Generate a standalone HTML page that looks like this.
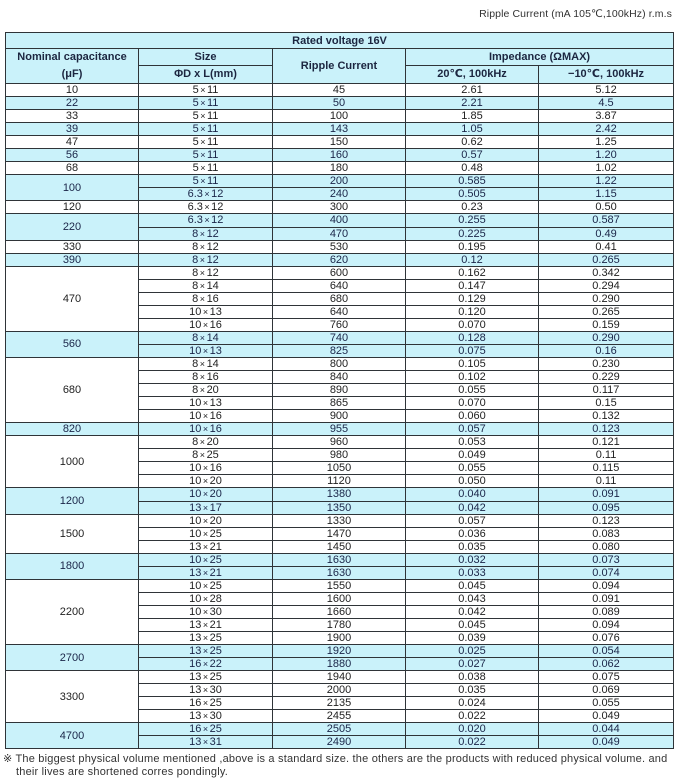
<!DOCTYPE html>
<html>
<head>
<meta charset="utf-8">
<style>
html,body{margin:0;padding:0;background:#fff;}
body{width:680px;height:782px;position:relative;overflow:hidden;font-family:"Liberation Sans","DejaVu Sans",sans-serif;}
.title{position:absolute;right:8px;top:8px;font-size:10.5px;color:#333;white-space:nowrap;letter-spacing:0.1px;}
table{position:absolute;left:5px;top:32px;border-collapse:collapse;table-layout:fixed;width:668px;}
td{border:1px solid #2f3438;padding:0;text-align:center;vertical-align:middle;font-size:11px;line-height:12px;color:#222;overflow:hidden;white-space:nowrap;}
tr{height:13.06px;}
.h td{font-weight:bold;color:#1c2640;background:#caf2fa;}
.b td{background:#caf2fa;color:#1a2548;}
i{font-style:normal;font-size:9px;margin:0 1.5px;}
.foot{position:absolute;left:3px;top:753px;font-size:11px;color:#333;line-height:13px;white-space:nowrap;letter-spacing:0.2px;}
.foot span{display:inline-block;width:13px;}
</style>
</head>
<body>
<div class="title">Ripple Current (mA 105℃,100kHz) r.m.s</div>
<table>
<colgroup><col style="width:133px"><col style="width:134px"><col style="width:133px"><col style="width:133px"><col style="width:135px"></colgroup>
<tr class="h" style="height:16px"><td colspan="5">Rated voltage 16V</td></tr>
<tr class="h" style="height:16px"><td rowspan="2" style="line-height:17px">Nominal capacitance<br>(μF)</td><td>Size</td><td rowspan="2">Ripple Current</td><td colspan="2">Impedance (ΩMAX)</td></tr>
<tr class="h" style="height:17px"><td>ΦD x L(mm)</td><td>20℃, 100kHz</td><td>−10℃, 100kHz</td></tr>

<tr><td>10</td><td>5<i>×</i>11</td><td>45</td><td>2.61</td><td>5.12</td></tr>
<tr class="b"><td>22</td><td>5<i>×</i>11</td><td>50</td><td>2.21</td><td>4.5</td></tr>
<tr><td>33</td><td>5<i>×</i>11</td><td>100</td><td>1.85</td><td>3.87</td></tr>
<tr class="b"><td>39</td><td>5<i>×</i>11</td><td>143</td><td>1.05</td><td>2.42</td></tr>
<tr><td>47</td><td>5<i>×</i>11</td><td>150</td><td>0.62</td><td>1.25</td></tr>
<tr class="b"><td>56</td><td>5<i>×</i>11</td><td>160</td><td>0.57</td><td>1.20</td></tr>
<tr><td>68</td><td>5<i>×</i>11</td><td>180</td><td>0.48</td><td>1.02</td></tr>
<tr class="b"><td rowspan="2">100</td><td>5<i>×</i>11</td><td>200</td><td>0.585</td><td>1.22</td></tr>
<tr class="b"><td>6.3<i>×</i>12</td><td>240</td><td>0.505</td><td>1.15</td></tr>
<tr><td>120</td><td>6.3<i>×</i>12</td><td>300</td><td>0.23</td><td>0.50</td></tr>
<tr class="b"><td rowspan="2">220</td><td>6.3<i>×</i>12</td><td>400</td><td>0.255</td><td>0.587</td></tr>
<tr class="b"><td>8<i>×</i>12</td><td>470</td><td>0.225</td><td>0.49</td></tr>
<tr><td>330</td><td>8<i>×</i>12</td><td>530</td><td>0.195</td><td>0.41</td></tr>
<tr class="b"><td>390</td><td>8<i>×</i>12</td><td>620</td><td>0.12</td><td>0.265</td></tr>
<tr><td rowspan="5">470</td><td>8<i>×</i>12</td><td>600</td><td>0.162</td><td>0.342</td></tr>
<tr><td>8<i>×</i>14</td><td>640</td><td>0.147</td><td>0.294</td></tr>
<tr><td>8<i>×</i>16</td><td>680</td><td>0.129</td><td>0.290</td></tr>
<tr><td>10<i>×</i>13</td><td>640</td><td>0.120</td><td>0.265</td></tr>
<tr><td>10<i>×</i>16</td><td>760</td><td>0.070</td><td>0.159</td></tr>
<tr class="b"><td rowspan="2">560</td><td>8<i>×</i>14</td><td>740</td><td>0.128</td><td>0.290</td></tr>
<tr class="b"><td>10<i>×</i>13</td><td>825</td><td>0.075</td><td>0.16</td></tr>
<tr><td rowspan="5">680</td><td>8<i>×</i>14</td><td>800</td><td>0.105</td><td>0.230</td></tr>
<tr><td>8<i>×</i>16</td><td>840</td><td>0.102</td><td>0.229</td></tr>
<tr><td>8<i>×</i>20</td><td>890</td><td>0.055</td><td>0.117</td></tr>
<tr><td>10<i>×</i>13</td><td>865</td><td>0.070</td><td>0.15</td></tr>
<tr><td>10<i>×</i>16</td><td>900</td><td>0.060</td><td>0.132</td></tr>
<tr class="b"><td>820</td><td>10<i>×</i>16</td><td>955</td><td>0.057</td><td>0.123</td></tr>
<tr><td rowspan="4">1000</td><td>8<i>×</i>20</td><td>960</td><td>0.053</td><td>0.121</td></tr>
<tr><td>8<i>×</i>25</td><td>980</td><td>0.049</td><td>0.11</td></tr>
<tr><td>10<i>×</i>16</td><td>1050</td><td>0.055</td><td>0.115</td></tr>
<tr><td>10<i>×</i>20</td><td>1120</td><td>0.050</td><td>0.11</td></tr>
<tr class="b"><td rowspan="2">1200</td><td>10<i>×</i>20</td><td>1380</td><td>0.040</td><td>0.091</td></tr>
<tr class="b"><td>13<i>×</i>17</td><td>1350</td><td>0.042</td><td>0.095</td></tr>
<tr><td rowspan="3">1500</td><td>10<i>×</i>20</td><td>1330</td><td>0.057</td><td>0.123</td></tr>
<tr><td>10<i>×</i>25</td><td>1470</td><td>0.036</td><td>0.083</td></tr>
<tr><td>13<i>×</i>21</td><td>1450</td><td>0.035</td><td>0.080</td></tr>
<tr class="b"><td rowspan="2">1800</td><td>10<i>×</i>25</td><td>1630</td><td>0.032</td><td>0.073</td></tr>
<tr class="b"><td>13<i>×</i>21</td><td>1630</td><td>0.033</td><td>0.074</td></tr>
<tr><td rowspan="5">2200</td><td>10<i>×</i>25</td><td>1550</td><td>0.045</td><td>0.094</td></tr>
<tr><td>10<i>×</i>28</td><td>1600</td><td>0.043</td><td>0.091</td></tr>
<tr><td>10<i>×</i>30</td><td>1660</td><td>0.042</td><td>0.089</td></tr>
<tr><td>13<i>×</i>21</td><td>1780</td><td>0.045</td><td>0.094</td></tr>
<tr><td>13<i>×</i>25</td><td>1900</td><td>0.039</td><td>0.076</td></tr>
<tr class="b"><td rowspan="2">2700</td><td>13<i>×</i>25</td><td>1920</td><td>0.025</td><td>0.054</td></tr>
<tr class="b"><td>16<i>×</i>22</td><td>1880</td><td>0.027</td><td>0.062</td></tr>
<tr><td rowspan="4">3300</td><td>13<i>×</i>25</td><td>1940</td><td>0.038</td><td>0.075</td></tr>
<tr><td>13<i>×</i>30</td><td>2000</td><td>0.035</td><td>0.069</td></tr>
<tr><td>16<i>×</i>25</td><td>2135</td><td>0.024</td><td>0.055</td></tr>
<tr><td>13<i>×</i>30</td><td>2455</td><td>0.022</td><td>0.049</td></tr>
<tr class="b"><td rowspan="2">4700</td><td>16<i>×</i>25</td><td>2505</td><td>0.020</td><td>0.044</td></tr>
<tr class="b"><td>13<i>×</i>31</td><td>2490</td><td>0.022</td><td>0.049</td></tr>
</table>
<div class="foot">※ The biggest physical volume mentioned ,above is a standard size. the others are the products with reduced physical volume. and<br><span></span>their lives are shortened corres pondingly.</div>
</body>
</html>
